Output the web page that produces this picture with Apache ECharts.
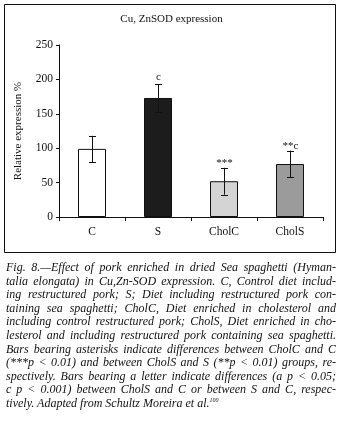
<!DOCTYPE html>
<html>
<head>
<meta charset="utf-8">
<script src="https://cdn.jsdelivr.net/npm/echarts@6/dist/echarts.min.js"></script>
<style>
  html, body { margin: 0; padding: 0; background: #fff; }
  #wrap { position: relative; width: 343px; height: 425px; overflow: hidden; }
  #chart { position: absolute; left: 0; top: 0; width: 343px; height: 425px; }
  #caption { position: absolute; left: 6px; top: 261px; width: 330px;
    font-family: 'Liberation Serif', 'DejaVu Serif', serif; font-style: italic;
    font-size: 12px; line-height: 13.6px; color: #111; }
  #caption div { white-space: nowrap; text-align: justify; text-align-last: justify; }
  #caption div.last { text-align-last: left; }
  #caption sup { font-size: 6px; vertical-align: 5px; line-height: 0; }
</style>
</head>
<body>
<div id="wrap">
  <div id="chart"></div>
  <div id="caption"></div>
</div>
<script>
// ---- data ----
var titleText = 'Cu, ZnSOD expression';
var yAxisName = 'Relative expression %';
var categories = ['C', 'S', 'CholC', 'CholS'];
var values = [99, 173, 52, 77];
var errors = [19, 20, 19.5, 19.5];
var annotations = ['', 'c', '***', '**c'];
var barColors = ['#ffffff', '#1c1c1c', '#d4d4d4', '#9b9b9b'];
var yMin = 0, yMax = 250, yInterval = 50;
var captionLines = [
  'Fig. 8.\u2014Effect of pork enriched in dried Sea spaghetti (Hyman-',
  'talia elongata) in Cu,Zn-SOD expression. C, Control diet includ-',
  'ing restructured pork; S; Diet including restructured pork con-',
  'taining sea spaghetti; CholC, Diet enriched in cholesterol and',
  'including control restructured pork; CholS, Diet enriched in cho-',
  'lesterol and including restructured pork containing sea spaghetti.',
  'Bars bearing asterisks indicate differences between CholC and C',
  '(***p < 0.01) and between CholS and S (**p < 0.01) groups, re-',
  'spectively. Bars bearing a letter indicate differences (a p < 0.05;',
  'c p < 0.001) between CholS and C or between S and C, respec-',
  'tively. Adapted from Schultz Moreira et al.'
];
var captionSup = '100';

// ---- caption ----
var cap = document.getElementById('caption');
captionLines.forEach(function (t, i) {
  var d = document.createElement('div');
  d.textContent = t;
  if (i === captionLines.length - 1) {
    d.className = 'last';
    var s = document.createElement('sup');
    s.textContent = captionSup;
    d.appendChild(s);
  }
  cap.appendChild(d);
});

// ---- chart ----
var FONT = "'Liberation Serif', 'DejaVu Serif', serif";
var chart = echarts.init(document.getElementById('chart'), null, { renderer: 'canvas' });

var errData = categories.map(function (c, i) {
  return [i, values[i] - errors[i], values[i] + errors[i]];
});

var option = {
  animation: false,
  backgroundColor: '#fff',
  title: {
    text: titleText, left: 'center', top: 9,
    textStyle: { fontFamily: FONT, fontSize: 11, fontWeight: 'normal', color: '#111' }
  },
  graphic: [{
    type: 'rect', silent: true,
    shape: { x: 4.5, y: 4.5, width: 331, height: 248 },
    style: { fill: 'none', stroke: '#111', lineWidth: 1 }
  }],
  grid: { left: 59, right: 20, top: 45, bottom: 208, containLabel: false },
  xAxis: {
    type: 'category', data: categories,
    axisLine: { lineStyle: { color: '#111', width: 1 } },
    axisTick: { show: true, length: 4, lineStyle: { color: '#111' }, alignWithLabel: false },
    axisLabel: { fontFamily: FONT, fontSize: 11.5, color: '#111', margin: 9 }
  },
  yAxis: {
    type: 'value', min: yMin, max: yMax, interval: yInterval,
    name: yAxisName, nameLocation: 'middle', nameGap: 35, nameRotate: 90,
    nameTextStyle: { fontFamily: FONT, fontSize: 11, color: '#111' },
    axisLine: { show: true, lineStyle: { color: '#111', width: 1 } },
    axisTick: { show: true, length: 3, lineStyle: { color: '#111' } },
    axisLabel: { fontFamily: FONT, fontSize: 11.5, color: '#111', margin: 6 },
    splitLine: { show: false }
  },
  series: [{
    type: 'bar',
    barWidth: 28,
    data: values.map(function (v, i) {
      return { value: v, itemStyle: { color: barColors[i], borderColor: '#111', borderWidth: 1 } };
    }),
    z: 2
  }, {
    type: 'custom',
    data: errData,
    z: 3,
    renderItem: function (params, api) {
      var i = api.value(0);
      var lo = api.coord([i, api.value(1)]);
      var hi = api.coord([i, api.value(2)]);
      var x = Math.round(hi[0]) + 0.5;
      var ylo = lo[1], yhi = hi[1];
      var cap = 3.5;
      var ls = { stroke: '#111', lineWidth: 1 };
      var children = [
        { type: 'line', shape: { x1: x, y1: ylo, x2: x, y2: yhi }, style: ls },
        { type: 'line', shape: { x1: x - cap, y1: Math.round(yhi) + 0.5, x2: x + cap, y2: Math.round(yhi) + 0.5 }, style: ls },
        { type: 'line', shape: { x1: x - cap, y1: Math.round(ylo) + 0.5, x2: x + cap, y2: Math.round(ylo) + 0.5 }, style: ls }
      ];
      var t = annotations[params.dataIndex];
      if (t) {
        // asterisk glyphs sit high in the em box, so they need less clearance
        var gap = t.indexOf('*') >= 0 ? -1 : 2;
        children.push({
          type: 'text', x: x, y: yhi - gap,
          style: { text: t, textAlign: 'center', textVerticalAlign: 'bottom',
                   fontFamily: FONT, fontSize: 11, fill: '#111' }
        });
      }
      return { type: 'group', children: children };
    }
  }]
};
chart.setOption(option);
</script>
</body>
</html>
